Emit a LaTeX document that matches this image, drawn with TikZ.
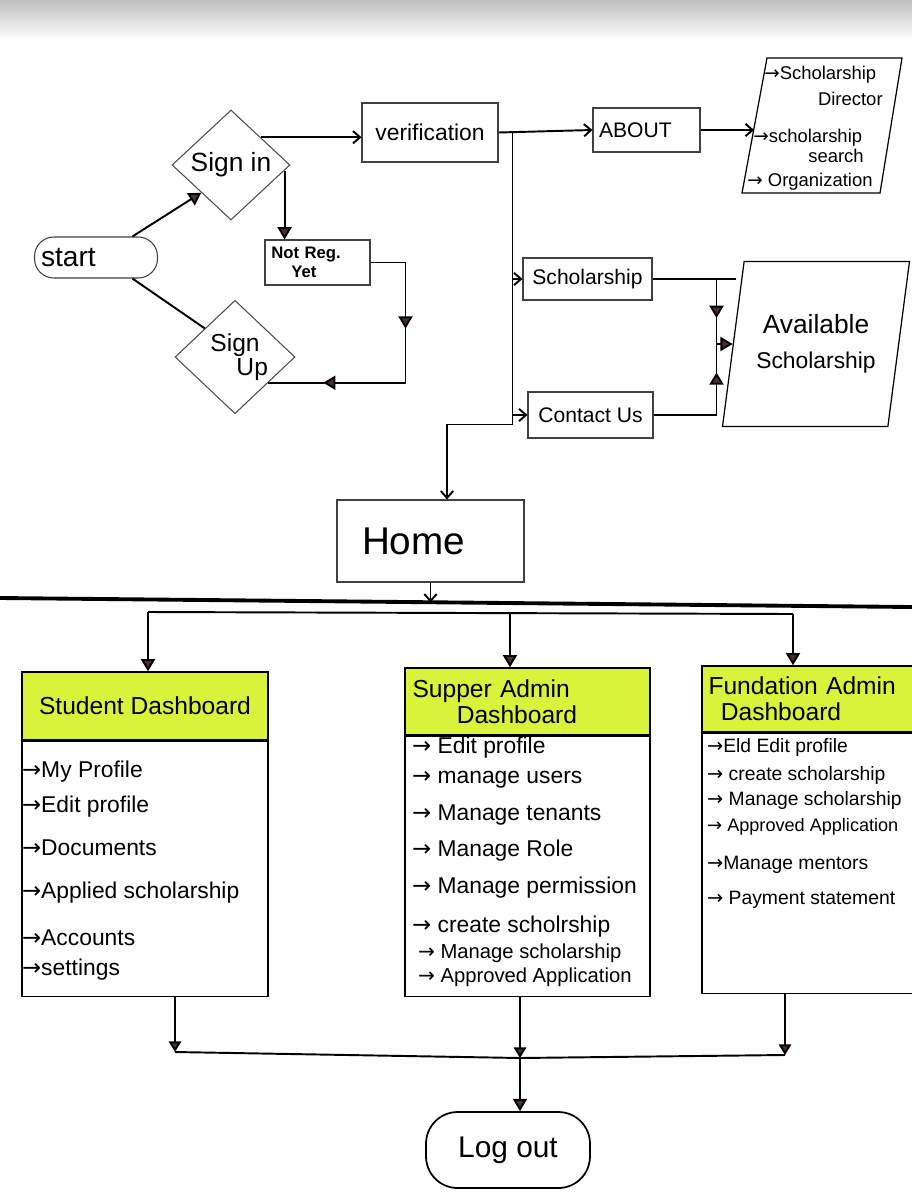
\documentclass[tikz,border=0pt]{standalone}
\usepackage{fontspec}
\setmainfont{Liberation Sans}
\newfontfamily\djv{DejaVu Sans}
\usetikzlibrary{arrows.meta,shapes.geometric,calc,decorations.markings}
\definecolor{hdr}{HTML}{D9F23A}
\definecolor{tipfill}{HTML}{4A2E30}
\newcommand\fsz[2]{\fontsize{#1}{#2}\selectfont}
\newcommand\ar{{\djv →}}
\tikzset{
  tri/.tip={Triangle[length=7pt,width=8pt,fill=tipfill]},
  tris/.tip={Triangle[length=6pt,width=7pt,fill=tipfill]},
  barb/.tip={Straight Barb[length=4pt,width=7pt]},
  box/.style={draw=black!75,line width=0.6pt,rectangle,inner sep=2pt},
  hdrbox/.style={draw=black,line width=0.8pt,fill=hdr,rectangle,inner sep=2pt},
  conn/.style={draw=black,line width=1.1pt},
  midarrow/.style={postaction={decorate},decoration={markings,mark=at position #1 with {\arrow{tri}}}},
  item/.style={font=\fsz{13}{15},inner sep=1pt,anchor=west},
  fitem/.style={font=\fsz{11}{13},inner sep=1pt,anchor=west},
  ptext/.style={font=\fsz{10.5}{12},inner sep=0pt},
}
\begin{document}
\begin{tikzpicture}[x=0.02cm,y=-0.02cm]
\useasboundingbox (0,0) rectangle (912,1204);
\clip (0,0) rectangle (912,1204);
\shade[top color=black!25,bottom color=white] (0,0) rectangle (912,40);

% ---- top flow ----
\node[box,rounded corners=11pt,minimum width=2.46cm,minimum height=0.82cm,text width=2.2cm,align=left,font=\fsz{16}{18}] (start) at (96,257.5) {start};
\node[diamond,draw=black!70,line width=0.6pt,minimum width=2.36cm,minimum height=2.2cm,inner sep=0pt,font=\fsz{15}{17}] (signin) at (231,165) {Sign in};
\node[diamond,draw=black!70,line width=0.6pt,minimum width=2.4cm,minimum height=2.2cm,inner sep=0pt,align=center,font=\fsz{14}{14}] (signup) at (235,357) {Sign\\\hspace*{1.4em}Up};
\node[box,minimum width=2.1cm,minimum height=0.9cm,text width=1.85cm,align=left,font=\bfseries\fsz{9.5}{11}] (notreg) at (317.5,262.5) {Not Reg.\\\hspace*{1.2em}Yet};
\node[box,minimum width=2.72cm,minimum height=1.18cm,font=\fsz{13}{15}] (verif) at (430,132.5) {verification};
\node[box,minimum width=2.14cm,minimum height=0.88cm,text width=1.9cm,align=left,font=\fsz{12}{14}] (about) at (646.5,130) {ABOUT};
% about parallelogram
\draw[black,line width=0.7pt] (767,58) -- (902,58) -- (880,193) -- (742,193) -- cycle;
\coordinate (aboutpw) at (754,130);
\node[ptext,anchor=west] (a1) at (764,75) {\ar Scholarship};
\node[ptext,anchor=east] (a2) at (883,99) {Director};
\node[ptext,anchor=west] (a3) at (753,138) {\ar scholarship};
\node[ptext] (a4) at (836,156) {search};
\node[ptext,anchor=west] (a5) at (747,182) {\ar\ Organization};
\node[box,minimum width=2.58cm,minimum height=0.84cm,font=\fsz{12}{14}] (schol) at (587.5,279) {Scholarship};
\node[box,minimum width=2.5cm,minimum height=0.92cm,font=\fsz{12}{14}] (contact) at (590.5,415) {Contact Us};
\node[trapezium,draw=black,line width=0.7pt,trapezium left angle=73,trapezium right angle=107,trapezium stretches body,minimum width=3.74cm,minimum height=3.3cm,align=center] (avail) at (816,344) {\fsz{15}{17}Available\\[8pt]\fsz{13}{15}Scholarship};
\node[box,minimum width=3.74cm,minimum height=1.64cm,text width=3.4cm,align=left,font=\fsz{22}{24}] (home) at (430.5,541) {\hspace*{0.33cm}Home};

% ---- connectors top ----
\draw[conn,-{tri}] (start.30) -- (signin.south west);
\draw[conn] (start.-30) -- (signup.north west);
\draw[conn,-{barb}] (signin.north east) -- (signin.north east -| verif.west);
\coordinate (p1) at ($(signin.east)!0.1!(signin.south)$);
\draw[conn,-{tri}] (p1) -- (p1 |- notreg.north);
\coordinate (p2) at ($(signup.east)!0.45!(signup.south)$);
\draw[conn] (notreg.east) -- ++(35,0) coordinate (c1);
\draw[conn,midarrow=0.55] (c1) -- (c1 |- p2);
\draw[conn,midarrow=0.6] (c1 |- p2) -- (p2);
\draw[conn,-{barb}] (verif.east) -- (about.west);
\coordinate (v0) at ($(verif.east)+(14,0)$);
\coordinate (v1) at ($(v0)+(0,292)$);
\coordinate (h1) at ($(home.north)+(16.5,0)$);
\draw[conn,-{barb}] (v0) -- (v1) -| (h1);
\draw[conn,-{barb}] (v0 |- schol.west) -- (schol.west);
\draw[conn,-{barb}] (v0 |- contact.west) -- (contact.west);
\draw[conn,-{barb}] (about.east) -- (about.east -| aboutpw);
\coordinate (j0) at ($(schol.east)+(64,0)$);
\coordinate (jm) at (j0 |- avail.west);
\draw[conn] (schol.east) -- ++(83,0);
\draw[conn,midarrow=0.6] (j0) -- (jm);
\draw[conn] (contact.east) -- (contact.east -| jm);
\draw[conn,midarrow=0.6] (contact.east -| jm) -- (jm);
\draw[conn,-{tri}] (jm) -- (avail.west);

% ---- separator and bus ----
\draw[line width=2.2pt] (0,598) -- (912,607);
\draw[conn,-{barb}] (home.south) -- ++(0,20);

% ---- dashboards ----
\node[hdrbox,minimum width=4.92cm,minimum height=1.36cm,font=\fsz{14}{16}] (sh) at (145,706) {Student Dashboard};
\node[box,draw=black,line width=0.8pt,minimum width=4.92cm,minimum height=5.1cm,anchor=north] (sb) at (sh.south) {};
\node[hdrbox,minimum width=4.9cm,minimum height=1.34cm,text width=4.6cm,align=left,font=\fsz{14}{15}] (ah) at (527.5,701.5) {Supper Admin\\\hspace*{1.8em}Dashboard};
\node[box,draw=black,line width=0.8pt,minimum width=4.9cm,minimum height=5.2cm,anchor=north] (ab) at (ah.south) {};
\node[hdrbox,minimum width=4.66cm,minimum height=1.32cm,text width=4.4cm,align=left,font=\fsz{14}{15}] (fh) at (818.5,699) {Fundation Admin\\\hspace*{0.5em}Dashboard};
\node[box,draw=black,line width=0.8pt,minimum width=4.66cm,minimum height=5.2cm,anchor=north] (fb) at (fh.south) {};

\node[item] (s1) at (20,772) {\ar My Profile};
\node[item] (s2) at (20,807) {\ar Edit profile};
\node[item] (s3) at (20,848) {\ar Documents};
\node[item] (s4) at (20,893) {\ar Applied scholarship};
\node[item] (s5) at (20,938) {\ar Accounts};
\node[item] (s6) at (20,970) {\ar settings};

\node[item] (m1) at (410,748) {\ar\ Edit profile};
\node[item] (m2) at (410,780) {\ar\ manage users};
\node[item] (m3) at (410,815) {\ar\ Manage tenants};
\node[item] (m4) at (410,851) {\ar\ Manage Role};
\node[item] (m5) at (410,888) {\ar\ Manage permission};
\node[item] (m6) at (410,927) {\ar\ create scholrship};
\node[item,font=\fsz{11.5}{13}] (m7) at (416,953) {\ar\ Manage scholarship};
\node[item,font=\fsz{11.5}{13}] (m8) at (416,977) {\ar\ Approved Application};

\node[fitem] (f1) at (705,747) {\ar Eld Edit profile};
\node[fitem] (f2) at (705,775) {\ar\ create scholarship};
\node[fitem] (f3) at (705,800) {\ar\ Manage scholarship};
\node[fitem,font=\fsz{10.3}{12}] (f4) at (705,827) {\ar\ Approved Application};
\node[fitem] (f5) at (705,865) {\ar Manage mentors};
\node[fitem] (f6) at (705,900) {\ar\ Payment statement};

\coordinate (b1) at (148,612);
\coordinate (b2) at (510,613);
\coordinate (b3) at (793,614);
\draw[conn] (b1) -- (b3);
\draw[conn,-{tri}] (b1) -- (b1 |- sh.north);
\draw[conn,-{tri}] (b2) -- (b2 |- ah.north);
\draw[conn,-{tri}] (b3) -- (b3 |- fh.north);

% ---- logout ----
\node[box,draw=black,line width=1pt,rounded corners=18pt,minimum width=3.28cm,minimum height=1.52cm,font=\fsz{17}{19}] (logout) at (508,1150) {Log out};
\coordinate (e1) at (175,1052);
\coordinate (e2) at (520,1058);
\coordinate (e3) at (785,1055);
\draw[conn,-{tris}] (e1 |- sb.south) -- (e1);
\draw[conn,-{tris}] (e2 |- ab.south) -- (e2);
\draw[conn,-{tris}] (e3 |- fb.south) -- (e3);
\draw[conn] (e1) -- (e2) -- (e3);
\draw[conn,-{tri}] (e2) -- (e2 |- logout.north);
\end{tikzpicture}
\end{document}
